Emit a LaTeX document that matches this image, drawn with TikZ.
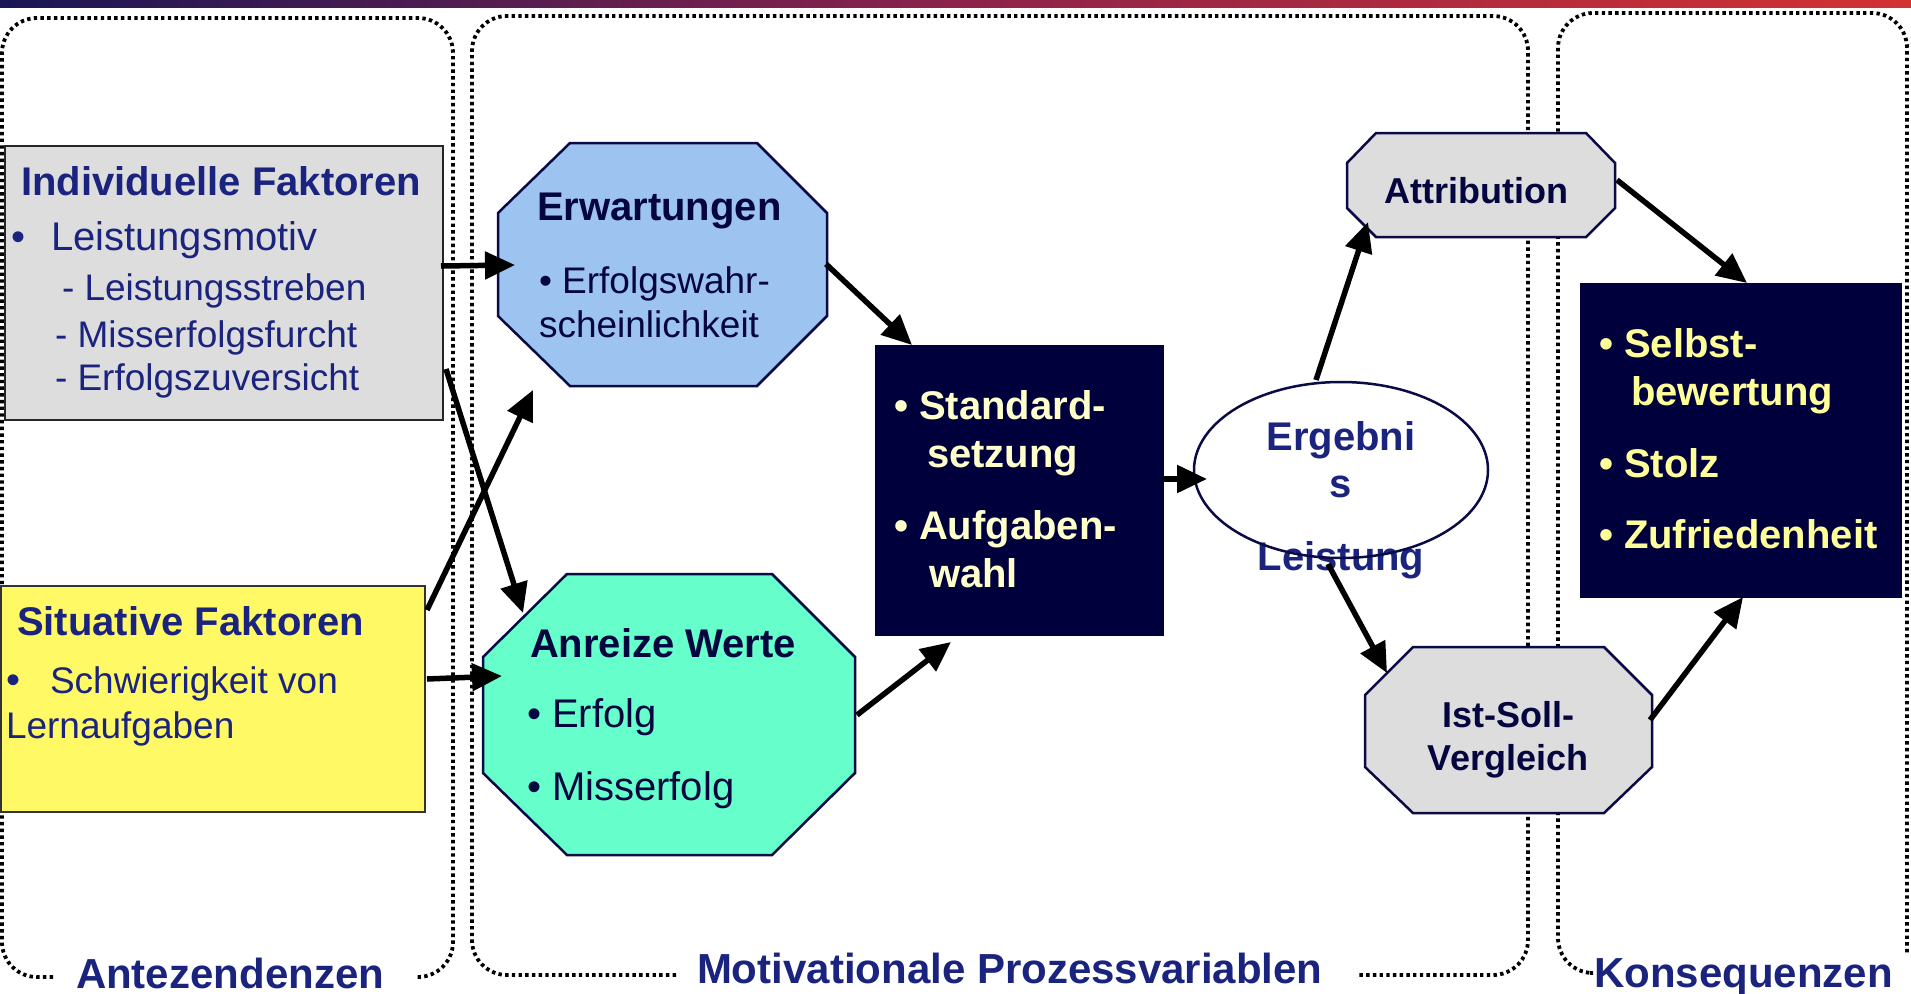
\documentclass[tikz,border=0pt]{standalone}
\usepackage{fontspec}
\setmainfont{Liberation Sans}
\usetikzlibrary{arrows.meta}
\definecolor{navytxt}{RGB}{26,35,126}
\definecolor{darktxt}{RGB}{5,5,64}
\definecolor{darkbox}{RGB}{0,0,60}
\definecolor{cream}{RGB}{255,255,204}
\definecolor{lemon}{RGB}{255,255,153}
\definecolor{lgray}{RGB}{221,221,221}
\definecolor{yel}{RGB}{255,249,102}
\definecolor{lblue}{RGB}{157,195,240}
\definecolor{aqua}{RGB}{102,255,204}
\definecolor{barL}{RGB}{25,22,85}
\definecolor{barM}{RGB}{140,35,75}
\definecolor{barR}{RGB}{210,50,50}
\definecolor{octline}{RGB}{10,10,70}
\begin{document}
\begin{tikzpicture}[x=1pt,y=-1pt,
  txt/.style={anchor=base west, inner sep=0pt, outer sep=0pt},
  ctxt/.style={anchor=base, inner sep=0pt, outer sep=0pt},
  t40/.style={font=\fontsize{40}{48}\selectfont},
  t37/.style={font=\fontsize{37}{44}\selectfont},
  b40/.style={font=\bfseries\fontsize{40}{48}\selectfont},
  b36/.style={font=\bfseries\fontsize{36}{43}\selectfont},
  b42/.style={font=\bfseries\fontsize{42}{50}\selectfont},
  cont/.style={line width=3.8pt, dash pattern=on 3.4pt off 3.3pt, rounded corners=35pt},
  octa/.style={draw=octline, line width=2.5pt},
  boxn/.style={anchor=north west, inner sep=0pt, outer sep=0pt},
  arr/.style={line width=5.5pt, -{Triangle[length=30pt,width=27pt]}}
]
\useasboundingbox (0,0) rectangle (1911,993);
\fill[white] (0,0) rectangle (1911,993);

% top gradient bar
\shade[left color=barL, right color=barR, middle color=barM] (0,0) rectangle (1911,7);

% dotted containers
\draw[cont] (53,977) -- (2,977) -- (2,18) -- (453,18) -- (453,977) -- (415,977);
\draw[cont] (676,975) -- (472,975) -- (472,16) -- (1528,16) -- (1528,975) -- (1358,975);
\draw[cont] (1590,973) -- (1558,973) -- (1558,13) -- (1907,13) -- (1907,955);

% container labels
\node[txt,b42,text=navytxt] (labA) at (76,988) {Antezendenzen};
\node[txt,b42,text=navytxt] (labM) at (697,983) {Motivationale Prozessvariablen};
\node[txt,b42,text=navytxt] (labK) at (1594,987) {Konsequenzen};

% Individuelle Faktoren
\node[boxn, draw=black!85, line width=2pt, fill=lgray, minimum width=438pt, minimum height=274pt] (ind) at (5,146) {};
\node[txt,b40,text=navytxt] (indT) at (21,195) {Individuelle Faktoren};
\node[txt,t40,text=navytxt] (indB) at (12,250) {•};
\node[txt,t40,text=navytxt] (ind1) at (51,250) {Leistungsmotiv};
\node[txt,t37,text=navytxt] (ind2) at (62,300) {- Leistungsstreben};
\node[txt,t37,text=navytxt] (ind3) at (55,347) {- Misserfolgsfurcht};
\node[txt,t37,text=navytxt] (ind4) at (55,390) {- Erfolgszuversicht};

% Situative Faktoren
\node[boxn, draw=black!80, line width=2pt, fill=yel, minimum width=424pt, minimum height=226pt] (sit) at (1,586) {};
\node[txt,b40,text=navytxt] (sitT) at (17,635) {Situative Faktoren};
\node[txt,t40,text=navytxt] (sitB) at (6,693) {•};
\node[txt,t37,text=navytxt] (sit1) at (50,693) {Schwierigkeit von};
\node[txt,t37,text=navytxt] (sit2) at (6,738) {Lernaufgaben};

% Erwartungen octagon
\draw[octa, fill=lblue] (570,143) -- (757,143) -- (827,213) -- (827,316) -- (757,386) -- (570,386) -- (498,316) -- (498,213) -- cycle;
\node[txt,b40,text=darktxt] (erwT) at (537,220) {Erwartungen};
\node[txt,t37,text=darktxt] (erw1) at (539,293) {• Erfolgswahr-};
\node[txt,t37,text=darktxt] (erw2) at (539,337) {scheinlichkeit};

% Anreize Werte octagon
\draw[octa, fill=aqua] (567,574) -- (772,574) -- (855,657) -- (855,773) -- (772,855) -- (567,855) -- (483,773) -- (483,657) -- cycle;
\node[txt,b40,text=darktxt] (anrT) at (530,657) {Anreize Werte};
\node[txt,t40,text=darktxt] (anr1) at (527,727) {• Erfolg};
\node[txt,t40,text=darktxt] (anr2) at (527,800) {• Misserfolg};

% Standardsetzung box
\node[boxn, fill=darkbox, minimum width=289pt, minimum height=291pt] (std) at (875,345) {};
\node[txt,b40,text=cream] (std1) at (894,419) {• Standard-};
\node[txt,b40,text=cream] (std2) at (927,467) {setzung};
\node[txt,b40,text=cream] (std3) at (894,539) {• Aufgaben-};
\node[txt,b40,text=cream] (std4) at (929,587) {wahl};

% Ergebnis ellipse
\fill[white] (1341,470) ellipse [x radius=147, y radius=88];
\node[ctxt,b40,text=navytxt] (erg1) at (1341,450) {Ergebni};
\node[ctxt,b40,text=navytxt] (erg2) at (1341,497) {s};
\node[ctxt,b40,text=navytxt] (erg3) at (1341,570) {Leistung};
\draw[draw=octline, line width=2.5pt] (1341,470) ellipse [x radius=147, y radius=88];

% Attribution octagon
\draw[octa, fill=lgray] (1376,133) -- (1586,133) -- (1615,163) -- (1615,208) -- (1586,237) -- (1376,237) -- (1347,208) -- (1347,163) -- cycle;
\node[ctxt,b36,text=darktxt] (attr) at (1476,203) {Attribution};

% Ist-Soll-Vergleich octagon
\draw[octa, fill=lgray] (1413,647) -- (1604,647) -- (1652,695) -- (1652,767) -- (1604,813) -- (1413,813) -- (1365,767) -- (1365,695) -- cycle;
\node[ctxt,b36,text=darktxt] (ist1) at (1508,727) {Ist-Soll-};
\node[ctxt,b36,text=darktxt] (ist2) at (1508,770) {Vergleich};

% Konsequenzen box
\node[boxn, fill=darkbox, minimum width=322pt, minimum height=315pt] (kon) at (1580,283) {};
\node[txt,b40,text=lemon] (kon1) at (1599,357) {• Selbst-};
\node[txt,b40,text=lemon] (kon2) at (1631,405) {bewertung};
\node[txt,b40,text=lemon] (kon3) at (1599,477) {• Stolz};
\node[txt,b40,text=lemon] (kon4) at (1599,548) {• Zufriedenheit};

% connector ports
\coordinate (indE1) at (441,266);
\coordinate (erwW) at (515,265);
\coordinate (indE2) at (446,369);
\coordinate (anrNW) at (523,613);
\coordinate (sitE1) at (427,610);
\coordinate (erwSW) at (533,390);
\coordinate (sitE2) at (427,679);
\coordinate (anrW) at (502,676);
\coordinate (erwE) at (826,264);
\coordinate (stdNW) at (912,345);
\coordinate (anrE) at (857,715);
\coordinate (stdS) at (951,642);
\coordinate (stdE) at (1162,479);
\coordinate (ergW) at (1207,479);
\coordinate (ergN) at (1316,380);
\coordinate (attrSW) at (1368,222);
\coordinate (ergS) at (1328,564);
\coordinate (istNW) at (1387,673);
\coordinate (attrE) at (1617,180);
\coordinate (konN) at (1747,283);
\coordinate (istE) at (1650,720);
\coordinate (konS) at (1743,597);

% connectors
\draw[arr] (indE1) -- (erwW);
\draw[arr] (indE2) -- (anrNW);
\draw[arr] (sitE1) -- (erwSW);
\draw[arr] (sitE2) -- (anrW);
\draw[arr] (erwE) -- (stdNW);
\draw[arr] (anrE) -- (stdS);
\draw[arr] (stdE) -- (ergW);
\draw[arr] (ergN) -- (attrSW);
\draw[arr] (ergS) -- (istNW);
\draw[arr] (attrE) -- (konN);
\draw[arr] (istE) -- (konS);
\end{tikzpicture}
\end{document}
